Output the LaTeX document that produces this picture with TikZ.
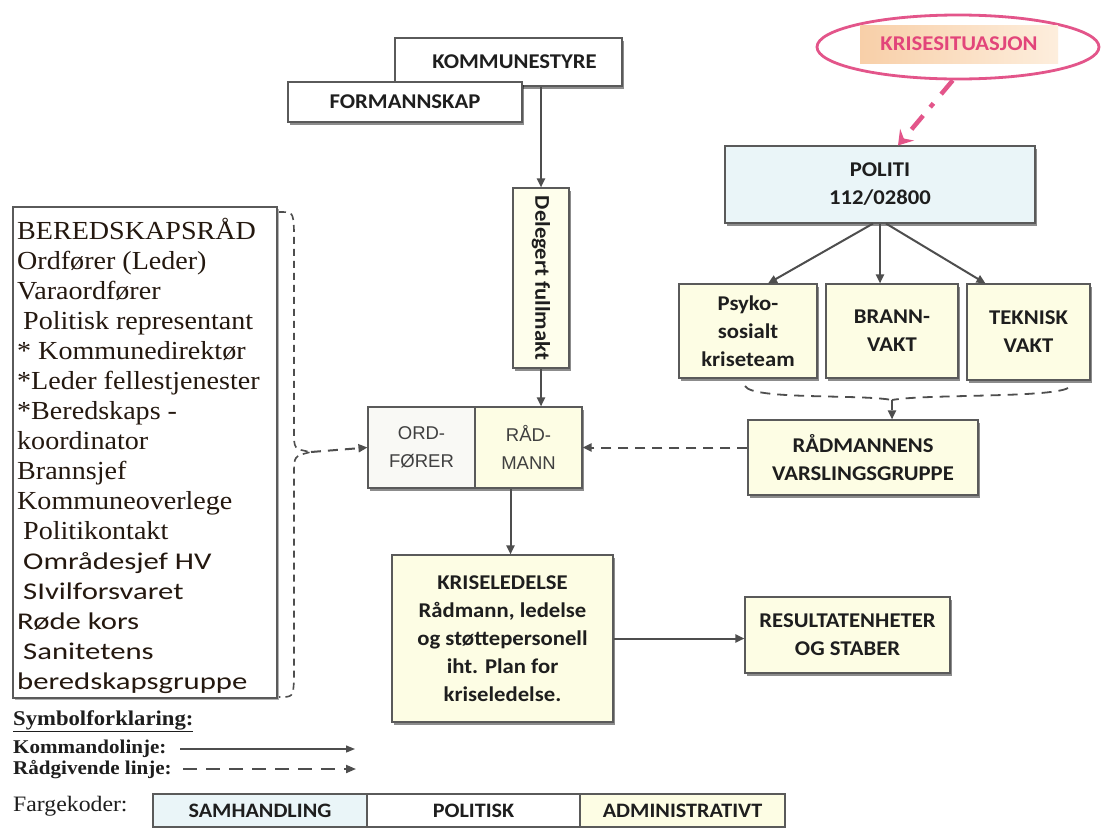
\documentclass[tikz,border=0pt]{standalone}
\usepackage{fontspec}
\setmainfont{Liberation Serif}[FakeStretch=1.08]
\newfontfamily\carlito{Carlito}[FakeStretch=1.08]
\newfontfamily\carlitowide{Carlito}[FakeStretch=1.28]
\newfontfamily\arialf{Liberation Sans}
\usetikzlibrary{arrows.meta,shadows,shapes.geometric}

\definecolor{boxline}{HTML}{5A5A5A}
\definecolor{inkdark}{HTML}{1E1E1E}
\definecolor{arrowgray}{HTML}{4E4E4E}
\definecolor{admyellow}{HTML}{FDFDE4}
\definecolor{samblue}{HTML}{EAF5F8}
\definecolor{polwhite}{HTML}{FFFFFF}
\definecolor{ordwhite}{HTML}{F9F9F5}
\definecolor{crispink}{HTML}{E3558A}
\definecolor{crisred}{HTML}{E2457A}
\definecolor{peachA}{HTML}{F8CFA8}
\definecolor{peachB}{HTML}{FDEEDD}
\definecolor{listink}{HTML}{24180F}

\newcommand\boxfont{\carlito\bfseries\fontsize{21}{28}\selectfont}

\begin{document}
\begin{tikzpicture}[x=1pt,y=-1pt,
  box/.style={draw=boxline, line width=1.1pt, inner sep=2pt, align=center,
    text=inkdark, font=\boxfont,
    drop shadow={shadow xshift=2pt, shadow yshift=-2.5pt, fill=black, opacity=0.45}},
  adm/.style={box, fill=admyellow},
  sam/.style={box, fill=samblue},
  pol/.style={box, fill=polwhite},
  cmd/.style={draw=arrowgray, line width=2pt, -{Triangle[length=9pt,width=8pt]}},
  adv/.style={cmd, dash pattern=on 10pt off 7pt},
  legtext/.style={anchor=west, inner sep=0pt, text=inkdark},
  cell/.style={draw=boxline, line width=1.1pt, minimum height=33, inner sep=0pt,
    text=inkdark, font=\carlito\bfseries\fontsize{20.5}{22}\selectfont}
]
\useasboundingbox (0,0) rectangle (1103,828);
\fill[white] (0,0) rectangle (1103,828);

% political bodies at the top
\node[pol, minimum width=227, minimum height=48] (kst) at (508.5,62)
  {\hspace*{12pt}KOMMUNESTYRE};
\node[pol, minimum width=234, minimum height=40] (fsk) at (405,102) {FORMANNSKAP};

% delegated authority
\node[adm, fill=admyellow!70!white, minimum width=56, minimum height=180] (del) at (541,278) {};
\node[rotate=-90, font=\boxfont, text=inkdark] (deltext) at (del.center) {Delegert fullmakt};

% mayor and chief executive
\node[box, fill=ordwhite, minimum width=107, minimum height=81,
  font=\arialf\fontsize{18.5}{28}\selectfont, text=inkdark!85] (ord) at (421.5,447.5) {ORD-\\FØRER};
\node[adm, minimum width=107, minimum height=81,
  font=\arialf\fontsize{18.5}{28}\selectfont, text=inkdark!85] (rad) at (528.5,447.5) {RÅD-\\MANN};

% crisis management
\node[adm, minimum width=221, minimum height=167] (krl) at (502.5,638.5)
  {KRISELEDELSE\\Rådmann, ledelse\\og støttepersonell\\iht. Plan for\\kriseledelse.};
\node[adm, minimum width=205, minimum height=76] (res) at (847.5,635)
  {RESULTATENHETER\\OG STABER};

% police and emergency services
\node[sam, minimum width=310, minimum height=77] (pol) at (880,184.5) {POLITI\\112/02800};
\node[adm, minimum width=138, minimum height=94] (psy) at (748,331) {Psyko-\\sosialt\\kriseteam};
\node[adm, minimum width=132, minimum height=94] (bra) at (892,331) {BRANN-\\VAKT};
\node[adm, minimum width=123, minimum height=96] (tek) at (1028.5,332) {TEKNISK\\VAKT};
\node[adm, minimum width=230, minimum height=75] (var) at (863,457.5)
  {RÅDMANNENS\\VARSLINGSGRUPPE};

% crisis bubble
\node[ellipse, draw=crispink, line width=2.8pt, minimum width=282, minimum height=64] (crisis) at (958,47) {};
\node[rectangle, left color=peachA, right color=peachB, minimum width=198, minimum height=38,
  inner sep=0pt, text=crisred, font=\carlito\bfseries\fontsize{21}{22}\selectfont] (crislabel) at (959,44)
  {KRISESITUASJON};
\draw[crispink, line width=4.5pt, dash pattern=on 18pt off 12pt on 5pt off 11pt,
  -{Stealth[length=14pt,width=18pt,inset=5pt]}] (crisis.-99) -- ([xshift=18pt]pol.north);

% preparedness council
\node[draw=boxline, line width=1.4pt, minimum width=264, minimum height=491, inner sep=0pt,
  drop shadow={shadow xshift=1.5pt, shadow yshift=-1.5pt, fill=black, opacity=0.3}, fill=white]
  (ber) at (145,452.5) {};
\node[anchor=north west, align=left, inner sep=0pt, text=listink,
  font=\fontsize{26}{30}\selectfont] (bertext) at (17,218)
  {BEREDSKAPSRÅD\\
   Ordfører (Leder)\\
   Varaordfører\\
   \hspace*{6pt}Politisk representant\\
   * Kommunedirektør\\
   *Leder fellestjenester\\
   *Beredskaps -\\
   koordinator\\
   Brannsjef\\
   Kommuneoverlege\\
   \hspace*{6pt}Politikontakt\\
   {\carlitowide\fontsize{24}{30}\selectfont\hspace*{6pt}Områdesjef HV}\\
   {\carlitowide\fontsize{24}{30}\selectfont\hspace*{6pt}SIvilforsvaret}\\
   {\carlitowide\fontsize{24}{30}\selectfont Røde kors}\\
   {\carlitowide\fontsize{24}{30}\selectfont\hspace*{6pt}Sanitetens}\\
   {\carlitowide\fontsize{24}{30}\selectfont beredskapsgruppe}};

% command lines
\draw[cmd] (kst.south -| del.north) -- (del.north);
\draw[cmd] (del.south) -- (del.south |- rad.north);
\draw[cmd] ([xshift=-18pt]rad.south) -- ([xshift=-18pt]rad.south |- krl.north);
\draw[cmd] (krl.east) -- (krl.east -| res.west);
\draw[cmd] ([xshift=-7pt]pol.south) -- ([xshift=20pt]psy.north);
\draw[cmd] (pol.south) -- (pol.south |- bra.north);
\draw[cmd] ([xshift=6pt]pol.south) -- ([xshift=-43pt]tek.north);

% advisory lines
\coordinate (bl) at (745,386);
\coordinate (br) at (1068,388);
\coordinate (bm) at (892,400);
\draw[draw=arrowgray, line width=1.8pt, dash pattern=on 10pt off 7pt]
  (bl) .. controls (752,400) and (860,394) .. (bm)
  (br) .. controls (1050,398) and (925,394) .. (bm);
\draw[adv] (bm) -- (bm |- var.north);
\draw[adv] (rad.east -| var.west) -- (rad.east);

\coordinate (lt) at (279,212);
\coordinate (lm) at (311,452);
\coordinate (lb) at (279,697);
\draw[draw=arrowgray, line width=1.6pt, dash pattern=on 7pt off 5pt]
  (lt) .. controls (293,212) .. (294,230) -- (294,432) .. controls (294,449) .. (lm)
  .. controls (294,456) .. (294,474) -- (294,680) .. controls (293,697) .. (lb);
\draw[adv] (lm) -- (ord.west);

% legend
\node[legtext, font=\bfseries\fontsize{21}{22}\selectfont] (symb) at (13,721)
  {\underline{Symbolforklaring:}};
\node[legtext, font=\bfseries\fontsize{19.5}{22}\selectfont] (kmd) at (13,749) {Kommandolinje:};
\node[legtext, font=\bfseries\fontsize{19.5}{22}\selectfont] (rgl) at (13,770) {Rådgivende linje:};
\node[legtext, font=\fontsize{22}{22}\selectfont] (farg) at (13,806) {Fargekoder:};
\coordinate (k1) at (180,749);
\coordinate (k2) at (355,749);
\coordinate (r1) at (183,769);
\coordinate (r2) at (356,769);
\draw[draw=arrowgray, line width=1.3pt, -{Triangle[length=9pt,width=7pt]}] (k1) -- (k2);
\draw[draw=arrowgray, line width=2pt, dash pattern=on 14pt off 9pt, -{Triangle[length=10pt,width=8pt]}] (r1) -- (r2);

\node[cell, fill=samblue, minimum width=214] (csam) at (260,810.5) {SAMHANDLING};
\node[cell, fill=polwhite, minimum width=213] (cpol) at (473.5,810.5) {POLITISK};
\node[cell, fill=admyellow, minimum width=205] (cadm) at (682.5,810.5) {ADMINISTRATIVT};
\end{tikzpicture}
\end{document}
